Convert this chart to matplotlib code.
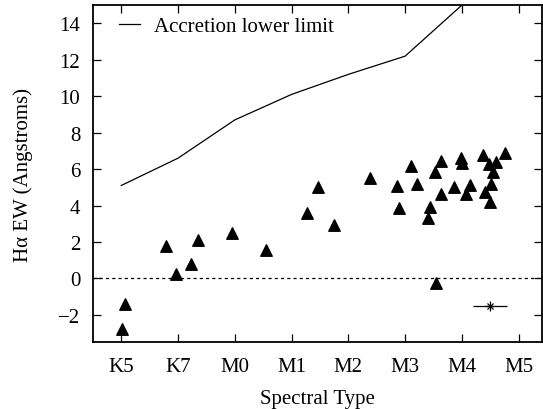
import matplotlib
matplotlib.use("Agg")
import matplotlib.pyplot as plt
import numpy as np

plt.rcParams['font.family'] = ['Liberation Serif', 'DejaVu Serif']

# spectral type axis: K5=0, K7=1, M0=2, ... M5=7
spt_labels = ['K5', 'K7', 'M0', 'M1', 'M2', 'M3', 'M4', 'M5']

# accretion lower limit curve
limit_spt = [0, 1, 2, 3, 4, 5, 6, 7]
limit_ew = [5.1, 6.6, 8.7, 10.1, 11.2, 12.2, 15.0, 18.0]

# measured H-alpha equivalent widths
star_spt = [0.02, 0.06, 0.79, 0.97, 1.23, 1.36, 1.95, 2.55,
            3.27, 3.47, 3.74, 4.39, 4.85, 4.89, 5.10, 5.21,
            5.64, 5.52, 5.98, 6.00, 5.63, 5.86, 6.15, 6.07,
            5.44, 5.40, 6.37, 6.76, 6.47, 6.60, 6.55, 6.51,
            6.41, 6.49, 5.54]
star_ew = [-2.75, -1.43, 1.76, 0.22, 0.81, 2.10, 2.49, 1.56,
           3.61, 5.04, 2.95, 5.49, 5.05, 3.88, 6.17, 5.20,
           6.43, 5.82, 6.63, 6.32, 4.62, 5.00, 5.11, 4.62,
           3.92, 3.31, 6.80, 6.91, 6.26, 6.41, 5.86, 5.16,
           4.76, 4.18, -0.24]

# typical error bar
err_spt, err_ew, err_x = 6.5, -1.54, 0.3

fig = plt.figure(figsize=(5.43, 4.10), dpi=100)
ax = fig.add_axes([0.171, 0.163, 0.827, 0.822])

ax.plot(limit_spt, limit_ew, color='black', lw=0.9, label='Accretion lower limit')
ax.axhline(0, color='black', lw=0.9, ls=(0, (2.5, 2.5)))
ax.scatter(star_spt, star_ew, marker='^', s=68, color='black', zorder=3)
ax.errorbar(err_spt, err_ew, xerr=err_x, fmt='none', ecolor='black', elinewidth=0.9, capsize=0)
ax.plot(err_spt, err_ew, marker='+', ms=7, color='black', mew=0.9)
ax.plot(err_spt, err_ew, marker='x', ms=5, color='black', mew=0.9)

ax.set_xlim(-0.5, 7.41)
ax.set_ylim(-3.5, 15.0)
ax.set_xticks(range(len(spt_labels)))
ax.set_xticklabels(spt_labels)
ax.set_yticks(np.arange(-2, 15, 2))
ax.tick_params(direction='in', top=True, right=True, length=6, width=0.9,
               labelsize=15)
ax.tick_params(axis='x', pad=11)
ax.tick_params(axis='y', pad=9)
for s in ax.spines.values():
    s.set_linewidth(1.3)

ax.set_xlabel('Spectral Type', fontsize=15, labelpad=9)
ax.set_ylabel('Hα EW (Angstroms)', fontsize=15, labelpad=18)

ax.legend(loc='upper left', bbox_to_anchor=(0.016, 1.021), frameon=False,
          fontsize=15, handlelength=1.0, handletextpad=0.7)

fig.savefig('out.png', dpi=100)
